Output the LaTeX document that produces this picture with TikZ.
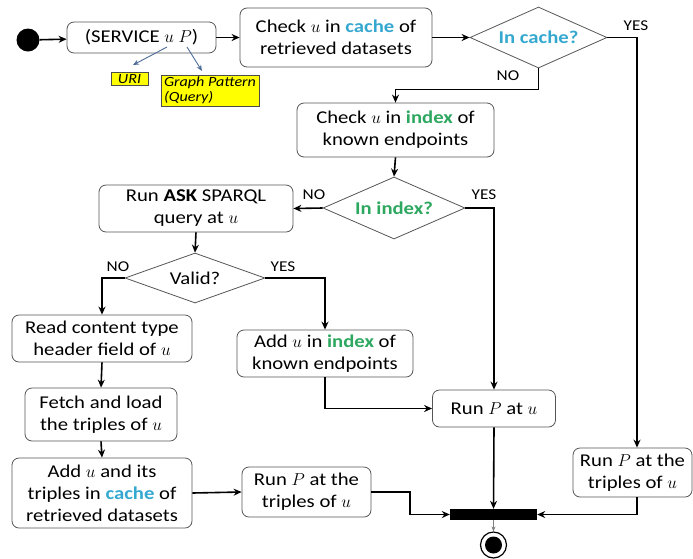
\documentclass[tikz,border=0pt]{standalone}
\usepackage{fontspec}
\setmainfont{Carlito}[FakeStretch=1.15]
\usetikzlibrary{shapes.geometric,arrows.meta}
\definecolor{boxgray}{HTML}{555555}
\definecolor{cachec}{HTML}{35A8D0}
\definecolor{indexc}{HTML}{2EA860}
\definecolor{noteblue}{HTML}{4F6D99}
\definecolor{noteyellow}{HTML}{FFFF00}
\newcommand{\fs}{\fontsize{18}{22}\selectfont}
\newcommand{\ca}[1]{\textcolor{cachec}{\textbf{#1}}}
\newcommand{\ix}[1]{\textcolor{indexc}{\textbf{#1}}}
\tikzset{
  stepbox/.style={draw=boxgray, line width=0.8pt, rounded corners=7pt, align=center, font=\fs, inner sep=0pt},
  decision/.style={diamond, draw=boxgray, line width=0.8pt, inner sep=0pt},
  dtext/.style={font=\fs, inner sep=0pt},
  flow/.style={line width=1.6pt, -{Stealth[length=8pt,width=7pt]}},
  lbl/.style={font=\fontsize{15}{17}\selectfont, inner sep=0pt},
  note/.style={draw=black!70, fill=noteyellow, font=\fontsize{14}{14.5}\selectfont\itshape, align=left, inner xsep=3pt, inner ysep=2pt},
  notearrow/.style={draw=noteblue, line width=0.9pt, -{Stealth[length=6pt,width=5pt]}}
}
\begin{document}
\begin{tikzpicture}[x=1pt,y=-1pt]
\useasboundingbox (0,0) rectangle (693,558);
% nodes
\node[circle, fill=black, minimum width=23pt, minimum height=21pt, inner sep=0pt] (start) at (28,40) {};
\node[stepbox, minimum width=149pt, minimum height=31pt] (svc) at (141.5,37.5) {(SERVICE $u$ $P$)};
\node[stepbox, minimum width=192pt, minimum height=59pt] (chk) at (336,37.5) {Check $u$ in \ca{cache} of\\retrieved datasets};
\node[decision, minimum width=137pt, minimum height=61pt] (incache) at (538.5,37.5) {};
\node[dtext] (incachet) at (incache.center) {\ca{In cache?}};
\node[stepbox, minimum width=197pt, minimum height=54pt] (chkidx) at (395.5,130) {Check $u$ in \ix{index} of\\known endpoints};
\node[decision, minimum width=142pt, minimum height=62pt] (inindex) at (394,208) {};
\node[dtext] (inindext) at (inindex.center) {\ix{In index?}};
\node[stepbox, minimum width=194pt, minimum height=47pt] (ask) at (196,208.5) {Run \textbf{ASK} SPARQL\\query at $u$};
\node[decision, minimum width=140pt, minimum height=50pt] (valid) at (195,278) {};
\node[dtext] (validt) at (valid.center) {Valid?};
\node[stepbox, minimum width=180pt, minimum height=47pt] (read) at (102,338.5) {Read content type\\header field of $u$};
\node[stepbox, minimum width=176pt, minimum height=47pt] (addidx) at (325,353.5) {Add $u$ in \ix{index} of\\known endpoints};
\node[stepbox, minimum width=152pt, minimum height=53pt] (fetch) at (101,414.5) {Fetch and load\\the triples of $u$};
\node[stepbox, minimum width=123pt, minimum height=37pt] (runpu) at (494,408.5) {Run $P$ at $u$};
\node[stepbox, minimum width=180pt, minimum height=70pt] (addc) at (102,493) {Add $u$ and its\\triples in \ca{cache} of\\retrieved datasets};
\node[stepbox, minimum width=129pt, minimum height=50pt] (rpt) at (306.5,492) {Run $P$ at the\\triples of $u$};
\node[stepbox, minimum width=119pt, minimum height=49pt] (rp2) at (632.5,472.5) {Run $P$ at the\\triples of $u$};
\node[fill=black, minimum width=87pt, minimum height=11pt, inner sep=0pt] (bar) at (493.5,514.5) {};
\node[circle, draw=black, line width=1.2pt, minimum size=26pt, inner sep=0pt] (endc) at (493.5,545) {};
\node[circle, fill=black, minimum size=17pt, inner sep=0pt] (endin) at (endc.center) {};
% notes
\node[note, minimum width=37pt] (uri) at (129.5,79) {URI};
\node[note] (gp) at (210,90.5) {Graph Pattern\\(Query)};
\coordinate (ua) at (167,47);
\coordinate (pa) at (187,47);
\draw[notearrow] (ua) -- (133,65);
\draw[notearrow] (pa) -- (202,71);
% coordinates for vertical rails
\coordinate (rx) at (637,0);
\coordinate (cx) at (410,0);
% connectors
\draw[flow] (start) -- (svc);
\draw[flow] (svc) -- (chk);
\draw[flow] (chk.east) -- (incache.west);
\draw[flow] (incache.east) -| (rx |- rp2.north);
\draw[flow] (incache.south) -- ++(0,21) -| (chkidx.north);
\draw[flow] (chkidx.south) -- (inindex.north);
\draw[flow] (inindex.west) -- (ask.east);
\draw[flow] (inindex.east) -| (runpu.north);
\draw[flow] (ask.south) -- (valid.north);
\draw[flow] (valid.west) -| (read.north);
\draw[flow] (valid.east) -| (addidx.north);
\draw[flow] (read.south) -- (fetch.north);
\draw[flow] (fetch.south) -- (addc.north);
\draw[flow] (addc.east) -- (rpt.west);
\draw[flow] (rpt.east) -- (cx |- rpt.east) |- (bar.west);
\draw[flow] (addidx.south) |- (runpu.west);
\draw[flow] (runpu.south) -- (bar.north);
\draw[flow] (rx |- rp2.south) |- (bar.east);
\draw[draw=gray, line width=0.8pt, -{Stealth[length=5pt,width=4pt]}] (bar.south) -- (endc.north);
% labels
\node[lbl] at (636,26) {YES};
\node[lbl] at (508,76) {NO};
\node[lbl] at (314,195) {NO};
\node[lbl] at (484,195) {YES};
\node[lbl] at (118,267) {NO};
\node[lbl] at (283,267) {YES};
\end{tikzpicture}
\end{document}
